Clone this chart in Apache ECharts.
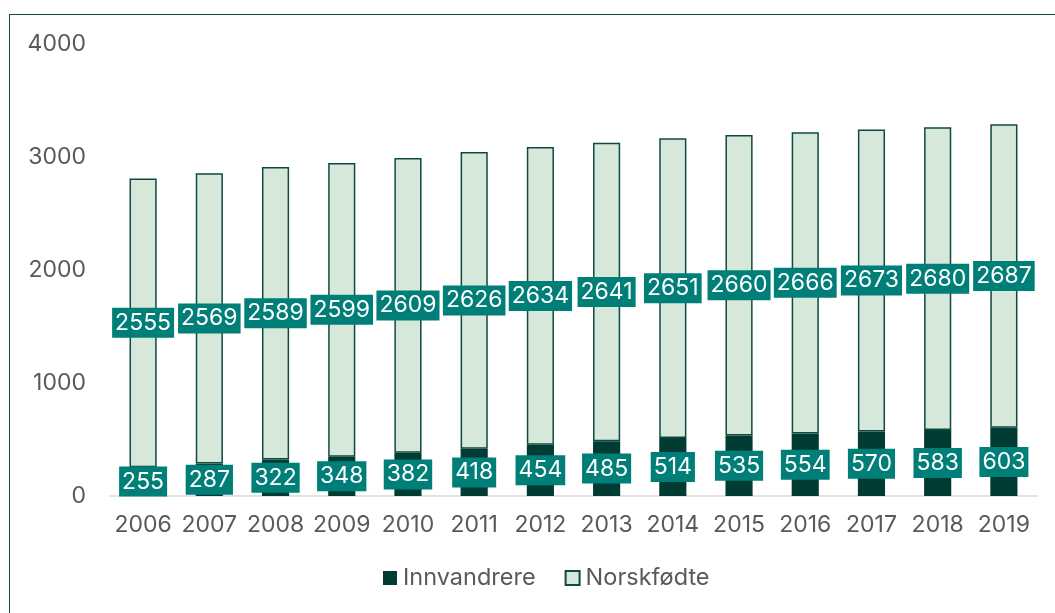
<!DOCTYPE html>
<html>
<head>
<meta charset="utf-8">
<script src="https://cdn.jsdelivr.net/npm/echarts@6/dist/echarts.min.js"></script>
<style>
  html, body { margin: 0; padding: 0; background: #fff; }
  #chart { width: 1055px; height: 613px; }
  .frame { position: absolute; left: 9px; top: 14px; width: 1100px; height: 700px; border-left: 1px solid #0f4a40; border-top: 1px solid #0f4a40; pointer-events: none; }
</style>
</head>
<body>
<div id="chart"></div>
<div class="frame"></div>
<script>
const years = ['2006', '2007', '2008', '2009', '2010', '2011', '2012', '2013', '2014', '2015', '2016', '2017', '2018', '2019']
const innvandrere = [255, 287, 322, 348, 382, 418, 454, 485, 514, 535, 554, 570, 583, 603]
const norskfodte = [2555, 2569, 2589, 2599, 2609, 2626, 2634, 2641, 2651, 2660, 2666, 2673, 2680, 2687]

let myChart = echarts.init(document.getElementById('chart'))

let valueLabel = {
  show: true,
  position: 'inside',
  color: '#fff',
  fontFamily: 'Inter',
  fontSize: 23,
  backgroundColor: '#007f79',
  padding: [4, 3, 3, 3]
}

let options = {
  animation: false,
  textStyle: { fontFamily: 'Inter' },
  grid: { left: 110, right: 18, top: 44, bottom: 117 },
  legend: {
    bottom: 18,
    left: 378,
    itemWidth: 14,
    itemHeight: 14,
    itemGap: 29,
    icon: 'rect',
    textStyle: { fontSize: 23.5, color: '#595959', fontFamily: 'Inter', padding: [0, 0, 0, 1] }
  },
  xAxis: {
    type: 'category',
    data: years,
    axisLine: { lineStyle: { color: '#d9d9d9', width: 1.5 } },
    axisTick: { show: false },
    axisLabel: { fontSize: 23, color: '#595959', margin: 18, interval: 0 }
  },
  yAxis: {
    type: 'value',
    min: 0,
    max: 4000,
    interval: 1000,
    splitLine: { show: false },
    axisLine: { show: false },
    axisTick: { show: false },
    axisLabel: { fontSize: 23, color: '#595959', margin: 24, formatter: (v) => String(v) }
  },
  series: [{
    name: 'Innvandrere',
    type: 'bar',
    stack: 'total',
    data: innvandrere,
    barWidth: '41%',
    itemStyle: { color: '#003c33' },
    label: valueLabel
  }, {
    name: 'Norskfødte',
    type: 'bar',
    stack: 'total',
    data: norskfodte,
    itemStyle: { color: '#d6e8da', borderColor: '#0f4a40', borderWidth: 1.5 },
    label: valueLabel
  }]
}
myChart.setOption(options)
</script>
</body>
</html>
